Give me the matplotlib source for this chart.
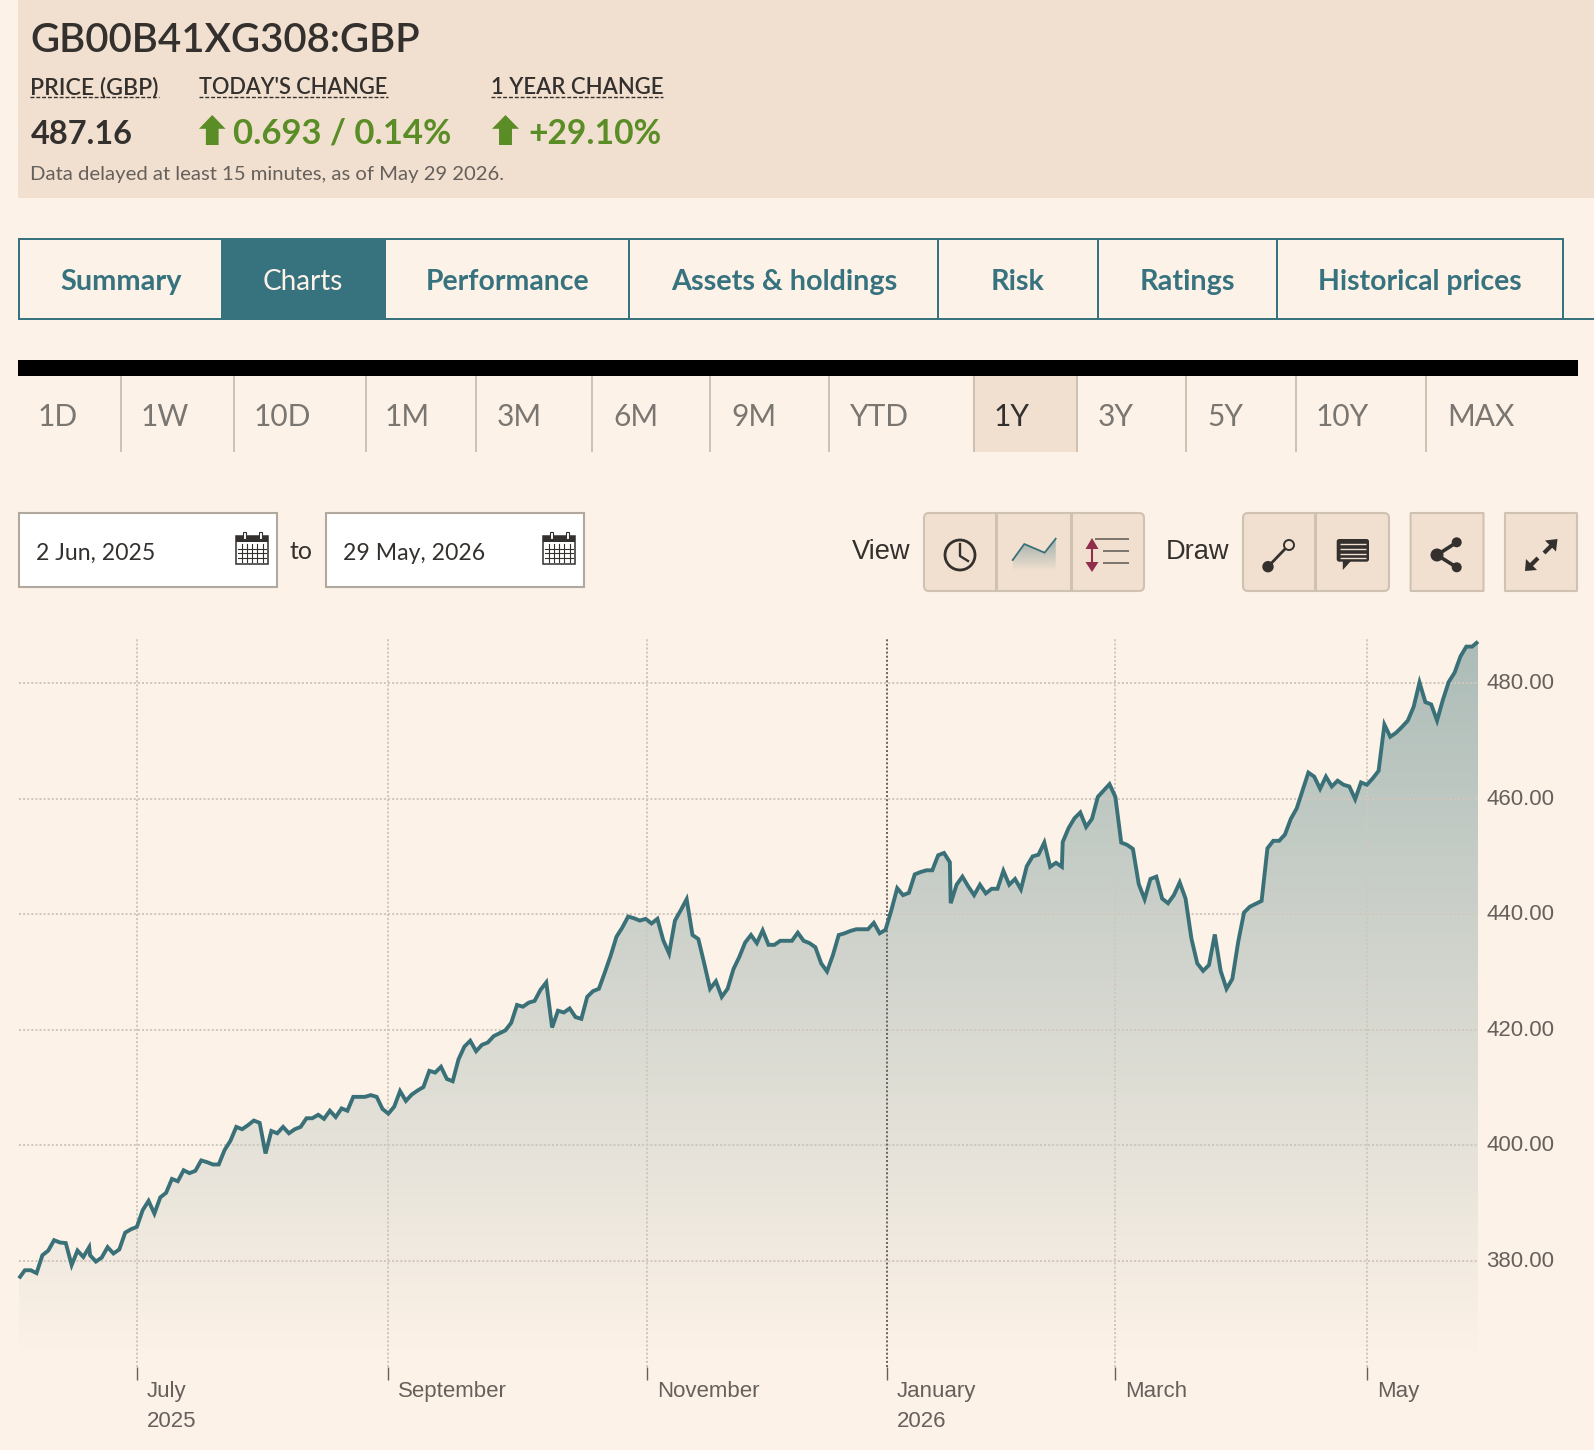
import numpy as np
import matplotlib
matplotlib.use("Agg")
import matplotlib.pyplot as plt
from matplotlib.patches import Rectangle, FancyBboxPatch, Polygon, Circle
from matplotlib.transforms import ScaledTranslation

W, H = 1594, 1450
BG = "#fdf2e7"
PANEL = "#f1e0cf"
TEAL = "#37727f"
LINE = "#3a7178"
DARK = "#33302e"
GREY = "#66605c"
GREEN = "#5b8d27"
EDGE = "#cfc2b3"

# ---------- data ----------
ticker = "GB00B41XG308:GBP"
price = "487.16"
day_change = "0.693 / 0.14%"
year_change = "+29.10%"
note = "Data delayed at least 15 minutes, as of May 29 2026."
nav_tabs = ["Summary", "Charts", "Performance", "Assets & holdings", "Risk", "Ratings", "Historical prices"]
ranges = ["1D", "1W", "10D", "1M", "3M", "6M", "9M", "YTD", "1Y", "3Y", "5Y", "10Y", "MAX"]
date_from = "2 Jun, 2025"
date_to = "29 May, 2026"

prices_a = [377.0, 378.4, 378.4, 377.9, 381.0, 381.8, 383.6, 383.2, 383.1, 379.3, 381.8, 380.7, 382.4]
prices_b = [381.0, 379.9, 380.6, 382.4, 381.3, 382.0, 384.9, 385.5, 385.9, 388.8, 390.4, 388.2, 391.0, 391.8,
            394.2, 393.8, 395.7, 395.2, 395.6, 397.4, 397.1, 396.7, 396.7, 399.2, 400.8, 403.2, 402.8, 403.5,
            404.3, 403.9, 398.6, 402.5, 402.1, 403.2, 402.1, 402.8, 403.2, 404.7, 404.7, 405.3, 404.6, 406.0,
            404.9, 406.4, 406.0, 408.4, 408.4, 408.4, 408.7, 408.4, 406.3, 405.5, 406.7, 409.4, 407.7, 408.8,
            409.5, 410.1, 412.9, 412.6, 413.6, 411.5, 411.1, 414.9, 417.1, 418.1, 416.3, 417.4, 417.8, 418.9,
            419.4, 419.9, 421.2, 424.3, 424.0, 424.7, 425.0, 426.9, 428.2, 420.4, 423.3, 423.0, 423.7, 422.2,
            421.9, 425.7, 426.7, 427.1, 429.9, 432.8, 436.1, 437.7, 439.6, 439.3, 438.9, 439.2, 438.4, 439.2,
            435.5, 433.2, 438.9, 440.7, 442.6, 436.4, 435.7, 431.5, 427.1, 428.4, 425.7, 427.1, 430.5, 432.6,
            435.1, 436.4, 435.0, 437.2, 434.7, 434.7, 435.4, 435.4, 435.4, 436.8, 435.4, 435.0, 434.3, 431.5,
            430.1, 432.9, 436.4, 436.7, 437.1, 437.4, 437.4, 437.4, 438.5, 436.7, 437.3, 440.7, 444.5, 443.3,
            443.7, 446.9, 447.3, 447.6, 447.6, 450.2, 450.6, 449.0]
prices_c = [441.9, 445.1, 446.5, 444.8, 443.3, 445.1, 443.6, 444.4, 444.4, 447.5, 445.1, 446.1, 444.3, 448.3,
            450.0, 450.3, 452.4, 448.2, 448.9, 448.2]
prices_d = [452.5, 454.9, 456.6, 457.6, 455.1, 456.5, 460.3, 461.4, 462.5, 460.3, 452.4, 452.0, 451.3, 445.2,
            442.6, 446.1, 446.5, 442.7, 441.9, 443.3, 445.5, 442.7, 435.8, 431.5, 430.2, 431.2, 436.5, 430.2,
            427.1, 428.8, 435.2, 440.3, 441.3, 441.8, 442.3, 451.4, 452.7, 452.7, 453.8, 456.5, 458.3, 461.4,
            464.5, 463.8, 461.7, 463.8, 462.1, 463.1, 462.4, 462.1, 459.9, 462.8, 462.4, 463.5, 464.8, 472.8,
            470.7, 471.4, 472.4, 473.5, 475.9, 480.1, 476.7, 476.3, 473.5, 477.1, 480.2, 481.8, 484.6, 486.3,
            486.3, 487.16]
price_segments = [prices_a, prices_b, prices_c, prices_d]
segment_gap = 0.15  # sessions with nearly no time between them
month_ticks = [20.2, 63.15, 107.4, 148.4, 187.4, 230.5]
month_labels = ["July\n2025", "September", "November", "January\n2026", "March", "May"]
dark_tick = "January\n2026"
y_ticks = [380, 400, 420, 440, 460, 480]

sessions, prices = [], []
start = 0.0
for seg in price_segments:
    sessions.extend(start + i for i in range(len(seg)))
    prices.extend(seg)
    start = sessions[-1] + segment_gap
sessions = np.array(sessions)
prices = np.array(prices)

# ---------- canvas ----------
fig = plt.figure(figsize=(W / 100, H / 100), dpi=100, facecolor=BG)
ui = fig.add_axes([0, 0, 1, 1])
ui.set_xlim(0, W)
ui.set_ylim(H, 0)
ui.axis("off")
rend = fig.canvas.get_renderer()


def txt(x0, x1, base, s, color=DARK, family="Lato", weight="normal", size=20):
    t = ui.text(x0, base, s, color=color, family=family, weight=weight, fontsize=size, va="baseline", ha="left")
    if x1 is not None:
        w = t.get_window_extent(rend).width
        t.set_fontsize(size * (x1 - x0) / w)
    return t


def rect(x0, y0, x1, y1, fc="none", ec="none", lw=0, z=1):
    ui.add_patch(Rectangle((x0, y0), x1 - x0, y1 - y0, fc=fc, ec=ec, lw=lw, zorder=z))


def vline(x, y0, y1, c, lw=1.44):
    ui.plot([x, x], [y0, y1], color=c, lw=lw, solid_capstyle="butt", zorder=3)


def hline(y, x0, x1, c, lw=1.44, z=3):
    ui.plot([x0, x1], [y, y], color=c, lw=lw, solid_capstyle="butt", zorder=z)


def up_arrow(x0, x1, y0, y1):
    mid = (x0 + x1) / 2
    sw = (x1 - x0) * 0.24
    neck = y0 + (y1 - y0) * 0.46
    ui.add_patch(Polygon([(mid, y0), (x1, neck), (mid + sw, neck), (mid + sw, y1), (mid - sw, y1),
                          (mid - sw, neck), (x0, neck)], fc=GREEN, ec="none", zorder=3))


# header panel
rect(18, 0, W, 198, fc=PANEL)
txt(30.5, 420, 52, ticker, weight=600, size=30)
for x0, x1, s in [(30.5, 159, "PRICE (GBP)"), (199, 388, "TODAY'S CHANGE"), (491, 663, "1 YEAR CHANGE")]:
    txt(x0, x1, 94, s, weight=600, size=16)
    ui.plot([x0, x1], [96.5, 96.5], color=DARK, lw=1, dashes=(2.8, 1.4), zorder=3)
txt(30.5, 132, 143.5, price, weight="bold", size=28)
up_arrow(199, 225.5, 115, 145)
txt(233, 451.5, 143.5, day_change, color=GREEN, weight="bold", size=28)
up_arrow(492, 519, 115, 145)
txt(528, 661, 143.5, year_change, color=GREEN, weight="bold", size=28)
txt(30.5, 505, 180, note, color=GREY, size=14)

# navigation tabs
tab_edges = [19, 222, 385.5, 629, 938, 1098, 1277, 1563]
tab_text = [(60, 181), (263, 343.6), (426, 589), (671, 897), (991, 1045), (1140, 1235), (1318.5, 1522)]
rect(tab_edges[1], 238, tab_edges[2], 319, fc=TEAL)
hline(239, 18, 1563, TEAL)
hline(318.5, 18, W, TEAL)
for e in tab_edges:
    vline(e, 238, 319, TEAL)
for name, (x0, x1) in zip(nav_tabs, tab_text):
    active = name == "Charts"
    txt(x0, x1, 289.5, name, color="#fdf2e7" if active else TEAL, weight="normal" if active else "bold", size=20)

# range selector
rect(18, 360, 1578, 376, fc="black")
rect(974, 376, 1077, 452, fc=PANEL)
for x in [121, 234, 366, 476, 592, 710, 829, 974, 1077, 1186, 1296, 1426]:
    vline(x, 376, 452, EDGE)
range_left = [37.6, 141, 254, 385, 497, 613, 731, 850, 994, 1098, 1207, 1316, 1447]
for name, x0 in zip(ranges, range_left):
    txt(x0, None, 426, name, color=DARK if name == "1Y" else "#7a7671", size=21.5)


# date inputs
def calendar(x0, y0):
    w, h = 31.5, 32
    rect(x0, y0 + 4, x0 + w, y0 + h, fc="white", ec=DARK, lw=1.1, z=4)
    rect(x0, y0 + 4, x0 + w, y0 + 10, fc=DARK, z=4)
    for fx in (0.25, 0.75):
        rect(x0 + w * fx - 1.5, y0, x0 + w * fx + 1.5, y0 + 7, fc="white", ec=DARK, lw=0.8, z=5)
    for k in range(1, 6):
        ui.plot([x0 + w * k / 6] * 2, [y0 + 12, y0 + h - 2], color=DARK, lw=0.8, zorder=5)
    for k in range(1, 4):
        yy = y0 + 12 + (h - 14) * k / 4
        ui.plot([x0 + 2, x0 + w - 2], [yy, yy], color=DARK, lw=0.8, zorder=5)


for x0, x1, s in [(19, 277.5, date_from), (326, 584.5, date_to)]:
    rect(x0, 512.5, x1, 587, fc="white", ec="#b2a99e", lw=1.5)
    txt(x0 + 17, x0 + 17 + (119 if s == date_from else 142), 560, s, color=DARK, size=18)
    calendar(x1 - 41, 532)
txt(290, 313, 559, "to", color=DARK, size=18)
txt(851.6, 910, 559, "View", color=DARK, family="Liberation Sans", size=20)
txt(1165.6, 1229, 559, "Draw", color=DARK, family="Liberation Sans", size=20)


# toolbar buttons
def button(x0, x1, r=5):
    ui.add_patch(FancyBboxPatch((x0, 513), x1 - x0, 78, boxstyle=f"round,pad=0,rounding_size={r}",
                                fc=PANEL, ec=EDGE, lw=1.5, zorder=2))


button(924, 1144)
vline(996.5, 513, 591, EDGE, lw=2.2)
vline(1071, 513, 591, EDGE, lw=2.2)
button(1243, 1389)
vline(1315.4, 513, 591, EDGE, lw=2.2)
button(1410.6, 1483.5, r=0.5)
button(1505, 1577, r=0.5)

# clock
ui.add_patch(Circle((960, 555), 15, fc="none", ec=DARK, lw=2, zorder=4))
ui.plot([960, 960, 968], [544, 556, 561], color=DARK, lw=1.7, zorder=4)
# mini area
mx = [1012.7, 1024.3, 1044.6, 1055.7]
my = [560, 544, 552.7, 538.7]
poly = Polygon(list(zip(mx, my)) + [(1055.7, 571), (1012.7, 571)], fc="none", ec="none", zorder=3)
ui.add_patch(poly)
im = ui.imshow(np.dstack([np.full((64, 1), v) for v in (0.216, 0.447, 0.498)] +
                         [np.linspace(0.45, 0, 64)[:, None]]),
               extent=(1012.7, 1055.7, 571, 538), aspect="auto", zorder=3, interpolation="bilinear")
im.set_clip_path(poly)
ui.plot(mx, my, color=LINE, lw=1.3, zorder=4)
# spread
ui.plot([1092, 1092], [545, 565], color="#8f2f4b", lw=1.5, zorder=4)
ui.add_patch(Polygon([(1092, 538), (1098.5, 549), (1085.5, 549)], fc="#8f2f4b", zorder=4))
ui.add_patch(Polygon([(1092, 572), (1098.5, 562), (1085.5, 562)], fc="#8f2f4b", zorder=4))
hline(538.7, 1095, 1129, "#7d7770")
hline(550.7, 1103, 1129, "#7d7770")
hline(562.7, 1103, 1129, "#7d7770")
# line tool
ui.plot([1268, 1285], [566.7, 549], color=DARK, lw=2, zorder=4)
ui.add_patch(Circle((1268, 566.7), 5, fc=DARK, ec=DARK, zorder=4))
ui.add_patch(Circle((1289, 545), 5, fc=PANEL, ec=DARK, lw=1.4, zorder=4))
# comment
ui.add_patch(FancyBboxPatch((1336.7, 539), 32.3, 22.7, boxstyle="round,pad=0,rounding_size=2.5",
                            fc=DARK, ec="none", zorder=4))
ui.add_patch(Polygon([(1342.8, 561), (1342.8, 570), (1351, 561)], fc=DARK, zorder=4))
for yy in (544, 548.8, 553.6, 558):
    hline(yy, 1340, 1366, PANEL, lw=1, z=5)
# share
ui.plot([1456.7, 1437, 1456.7], [542.3, 555, 567.3], color=DARK, lw=2.6, zorder=4)
ui.add_patch(Circle((1456.7, 542.3), 5, fc=DARK, zorder=4))
ui.add_patch(Circle((1437, 555), 6.5, fc=DARK, zorder=4))
ui.add_patch(Circle((1456.7, 567.3), 5, fc=DARK, zorder=4))
# expand
ui.plot([1544, 1553], [553, 544], color=DARK, lw=3, solid_capstyle="butt", zorder=4)
ui.plot([1529, 1538], [567, 558], color=DARK, lw=3, solid_capstyle="butt", zorder=4)
ui.add_patch(Polygon([(1557.5, 539), (1545, 540.5), (1556, 551.5)], fc=DARK, ec="none", zorder=4))
ui.add_patch(Polygon([(1525, 571), (1537, 570), (1526, 559)], fc=DARK, ec="none", zorder=4))
ui.set_xlim(0, W)
ui.set_ylim(H, 0)

# ---------- chart ----------
PLOT_L, PLOT_R, PLOT_T, PLOT_B = 19, 1478, 638, 1367
ax = fig.add_axes([PLOT_L / W, 1 - PLOT_B / H, (PLOT_R - PLOT_L) / W, (PLOT_B - PLOT_T) / H], facecolor="none")
ymin, ymax = 361.66, 487.79
xlim = (sessions[0], sessions[-1])

grad = np.dstack([np.full((256, 1), v) for v in (0.216, 0.43, 0.45)] + [np.linspace(0.41, 0, 256)[:, None]])
area = ax.fill_between(sessions, prices, ymin, facecolor="none", edgecolor="none")
gi = ax.imshow(grad, extent=(xlim[0], xlim[1], ymin + 0.8, ymax), aspect="auto", zorder=1, origin="upper")
gi.set_clip_path(area.get_paths()[0], transform=ax.transData)

ax.set_xlim(*xlim)
ax.set_ylim(ymin, ymax)
for s in ax.spines.values():
    s.set_visible(False)

dots = (0, (1.0, 1.05))
for v in y_ticks:
    ax.axhline(v, color="#cfc8bd", lw=1.44, ls=dots, zorder=2)
for t, lab in zip(month_ticks, month_labels):
    c = "#6c6763" if lab == dark_tick else "#cfc8bd"
    ax.axvline(t, color=c, lw=1.44, ls=dots, zorder=2)
ax.plot(sessions, prices, color=LINE, lw=2.8, zorder=3, clip_on=False, solid_joinstyle="miter",
        solid_capstyle="butt")

ax.yaxis.tick_right()
ax.set_yticks(y_ticks)
ax.set_yticklabels([f"{v:.2f}" for v in y_ticks], family="Liberation Sans", fontsize=16, color=GREY)
ax.tick_params(axis="y", length=0, pad=6)
for lab in ax.get_yticklabels():
    lab.set_transform(lab.get_transform() + ScaledTranslation(0, 2 / 100, fig.dpi_scale_trans))
ax.set_xticks(month_ticks)
ax.set_xticklabels(month_labels, family="Liberation Sans", fontsize=16, color=GREY, ha="left", linespacing=1.6)
ax.tick_params(axis="x", length=9, width=1, color=GREY, pad=1)
for lab in ax.get_xticklabels():
    lab.set_transform(lab.get_transform() + ScaledTranslation(10 / 100, 0, fig.dpi_scale_trans))

fig.savefig("out.png", dpi=100, facecolor=BG)
